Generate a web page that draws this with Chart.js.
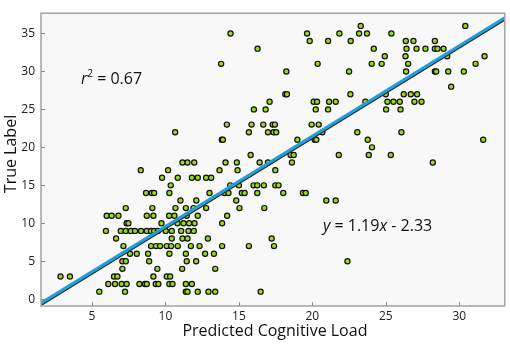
<!DOCTYPE html>
<html>
<head>
<meta charset="utf-8">
<script src="https://cdn.jsdelivr.net/npm/chart.js@4.4.0/dist/chart.umd.min.js"></script>
<style>
  html, body { margin: 0; padding: 0; background: #fff; }
</style>
</head>
<body>
<canvas id="loadChart" width="510" height="345"></canvas>
<script>
// predicted cognitive load per sample (x), grouped by true label rows
const predictedLoad = [
  5.50, 7.25, 11.39, 11.50, 12.20, 12.93, 13.39, 16.48,
  6.11, 6.57, 7.02, 7.36, 8.23, 8.61, 8.73, 9.34, 9.52, 10.27, 10.48, 11.39, 11.80,
  2.86, 3.50, 6.50, 6.73, 9.18, 10.09, 10.32,
  7.07, 9.45, 11.14, 13.39,
  7.07, 7.30, 8.89, 11.45, 12.09, 22.39,
  7.59, 8.05, 8.82, 10.27, 11.39, 12.70, 13.30,
  7.14, 9.02, 9.36, 9.64, 10.09, 10.39, 10.84, 11.73, 12.32, 13.86, 15.68, 17.39,
  6.64, 10.43, 11.16, 11.50, 12.89, 17.23,
  5.95, 6.96, 7.30, 7.64, 7.93, 8.34, 8.73, 9.02, 9.23, 9.48, 10.02, 10.43, 11.07, 11.57, 11.93,
  7.36, 7.48, 9.73, 10.82, 11.23, 11.61, 11.98, 13.86,
  6.00, 6.34, 6.80, 8.73, 9.18, 10.25, 10.61, 11.45, 12.20, 14.20,
  7.30, 9.11, 10.68, 11.39, 11.91, 12.77, 15.04, 16.73,
  11.02, 12.10, 14.82, 20.95, 21.59,
  8.68, 9.07, 9.23, 10.27, 13.00, 14.02, 14.29, 15.20, 15.39, 16.25, 18.02, 19.36, 19.55,
  10.36, 14.41, 15.00, 16.00, 16.25, 16.70, 17.48, 17.70,
  9.77, 10.84, 11.80, 12.20, 12.77, 13.11,
  8.32, 10.18, 13.68, 14.91, 17.48,
  11.16, 11.50, 11.96, 14.09, 14.86, 16.41, 16.98, 18.61, 28.20,
  15.80, 18.52, 18.73, 21.80, 23.84, 25.34,
  24.06,
  13.84, 13.91, 18.98, 20.16, 20.27, 23.77, 31.63,
  10.66, 15.68, 16.98, 17.36, 17.54, 20.68, 23.06, 26.06,
  14.18, 15.86, 16.66, 17.30, 17.45, 19.95, 20.43,
  16.02, 16.82, 20.23, 21.07, 25.02, 26.00,
  17.09, 20.09, 20.32, 21.14, 21.59, 23.61, 25.11, 25.52, 25.95, 26.95, 27.43,
  18.16, 18.27, 22.59, 25.00, 26.22, 26.70, 27.13,
  29.45,
  18.23, 22.50, 26.38, 28.34, 28.43, 29.25, 30.31,
  13.79, 20.36, 24.04, 24.72, 26.52, 31.11,
  24.93, 26.34, 29.18, 31.72,
  16.27, 24.18, 26.41, 27.09, 27.70, 28.34, 28.52, 28.93,
  19.82, 21.07, 22.61, 26.36, 26.88, 28.34,
  14.43, 19.64, 21.84, 23.18, 23.72, 25.38,
  23.29, 30.41
];

const trueLabel = [
  1, 1, 1, 1, 1, 1, 1, 1,
  2, 2, 2, 2, 2, 2, 2, 2, 2, 2, 2, 2, 2,
  3, 3, 3, 3, 3, 3, 3,
  4, 4, 4, 4,
  5, 5, 5, 5, 5, 5,
  6, 6, 6, 6, 6, 6, 6,
  7, 7, 7, 7, 7, 7, 7, 7, 7, 7, 7, 7,
  8, 8, 8, 8, 8, 8,
  9, 9, 9, 9, 9, 9, 9, 9, 9, 9, 9, 9, 9, 9, 9,
  10, 10, 10, 10, 10, 10, 10, 10,
  11, 11, 11, 11, 11, 11, 11, 11, 11, 11,
  12, 12, 12, 12, 12, 12, 12, 12,
  13, 13, 13, 13, 13,
  14, 14, 14, 14, 14, 14, 14, 14, 14, 14, 14, 14, 14,
  15, 15, 15, 15, 15, 15, 15, 15,
  16, 16, 16, 16, 16, 16,
  17, 17, 17, 17, 17,
  18, 18, 18, 18, 18, 18, 18, 18, 18,
  19, 19, 19, 19, 19, 19,
  20,
  21, 21, 21, 21, 21, 21, 21,
  22, 22, 22, 22, 22, 22, 22, 22,
  23, 23, 23, 23, 23, 23, 23,
  25, 25, 25, 25, 25, 25,
  26, 26, 26, 26, 26, 26, 26, 26, 26, 26, 26,
  27, 27, 27, 27, 27, 27, 27,
  28,
  30, 30, 30, 30, 30, 30, 30,
  31, 31, 31, 31, 31, 31,
  32, 32, 32, 32,
  33, 33, 33, 33, 33, 33, 33, 33,
  34, 34, 34, 34, 34, 34,
  35, 35, 35, 35, 35, 35,
  36, 36
];

const fitSlope = 1.19;
const fitIntercept = -2.33;
const rSquared = '0.67';

const xTicks = [5, 10, 15, 20, 25, 30];
const yTicks = [0, 5, 10, 15, 20, 25, 30, 35];
const xRange = [1.53, 33.1];
const yRange = [-0.89, 37.67];

const fontName = "'Open Sans', 'DejaVu Sans', sans-serif";
const plotBg = '#f8f8f8';
const frameColor = '#a3a3a3';

let points = predictedLoad.map((v, i) => ({ x: v, y: trueLabel[i] }));
let fitLine = xRange.map(v => ({ x: v, y: fitSlope * v + fitIntercept }));

// draws a run of text pieces, each with its own font / offset
function drawPieces(ctx, pieces, x, y) {
  pieces.forEach(p => {
    ctx.font = p.font;
    ctx.fillText(p.text, x, y + (p.dy || 0));
    x += ctx.measureText(p.text).width;
  });
}

const framePlugin = {
  id: 'frame',
  beforeDraw(chart) {
    const { ctx, chartArea: a } = chart;
    ctx.save();
    ctx.fillStyle = plotBg;
    ctx.fillRect(a.left, a.top, a.right - a.left, a.bottom - a.top);
    ctx.restore();
  },
  beforeDatasetDraw(chart, args) {
    if (args.index !== 0) return;
    const ctx = chart.ctx;
    ctx.save();
    ctx.shadowColor = '#222';
    ctx.shadowBlur = 0;
    ctx.shadowOffsetX = 0.4;
    ctx.shadowOffsetY = 1;
  },
  afterDatasetDraw(chart, args) {
    if (args.index !== 0) return;
    chart.ctx.restore();
  },
  afterDraw(chart) {
    const { ctx, chartArea: a, scales } = chart;
    ctx.save();
    ctx.strokeStyle = frameColor;
    ctx.lineWidth = 1.5;
    ctx.strokeRect(a.left, a.top, a.right - a.left, a.bottom - a.top);

    // inward tick marks
    ctx.lineWidth = 1;
    ctx.strokeStyle = '#8a8a8a';
    ctx.beginPath();
    scales.x.ticks.forEach(t => {
      const px = Math.round(scales.x.getPixelForValue(t.value)) + 0.5;
      ctx.moveTo(px, a.bottom);
      ctx.lineTo(px, a.bottom - 4);
    });
    scales.y.ticks.forEach(t => {
      const py = Math.round(scales.y.getPixelForValue(t.value)) + 0.5;
      ctx.moveTo(a.left, py);
      ctx.lineTo(a.left + 4, py);
    });
    ctx.stroke();

    ctx.fillStyle = '#111';
    ctx.textBaseline = 'middle';

    // axis titles
    ctx.textAlign = 'center';
    ctx.font = '16px ' + fontName;
    ctx.fillText('Predicted Cognitive Load', (a.left + a.right) / 2 + 2, 331);
    ctx.save();
    ctx.translate(11, 154);
    ctx.rotate(-Math.PI / 2);
    ctx.fillText('True Label', 0, 0);
    ctx.restore();

    // annotations
    ctx.textAlign = 'left';
    drawPieces(ctx, [
      { text: 'r', font: 'italic 16px ' + fontName },
      { text: '2', font: '10px ' + fontName, dy: -5 },
      { text: ' = ' + rSquared, font: '16px ' + fontName }
    ], scales.x.getPixelForValue(4.25), scales.y.getPixelForValue(29));

    drawPieces(ctx, [
      { text: 'y', font: 'italic 16px ' + fontName },
      { text: ' = ' + fitSlope.toFixed(2), font: '16px ' + fontName },
      { text: 'x', font: 'italic 16px ' + fontName },
      { text: ' - ' + Math.abs(fitIntercept).toFixed(2), font: '16px ' + fontName }
    ], scales.x.getPixelForValue(20.72), scales.y.getPixelForValue(9.6));
    ctx.restore();
  }
};

const useTicks = values => scale => {
  scale.ticks = values.map(v => ({ value: v }));
};

new Chart(document.getElementById('loadChart').getContext('2d'), {
  type: 'scatter',
  data: {
    datasets: [
      {
        type: 'line',
        label: 'fit',
        data: fitLine,
        borderColor: '#1fa0dc',
        borderWidth: 3,
        pointRadius: 0,
        fill: false
      },
      {
        label: 'samples',
        data: points,
        backgroundColor: '#9ad81e',
        borderColor: '#111',
        borderWidth: 1.2,
        pointRadius: 2.6
      }
    ]
  },
  options: {
    responsive: false,
    animation: false,
    events: [],
    layout: { padding: { top: 3, right: 5, left: 0, bottom: 0 } },
    plugins: {
      legend: { display: false },
      tooltip: { enabled: false }
    },
    scales: {
      x: {
        type: 'linear',
        min: xRange[0],
        max: xRange[1],
        grid: { display: false, drawTicks: false },
        border: { display: false },
        ticks: {
          padding: 3,
          color: '#222',
          font: { family: fontName, size: 12 }
        },
        afterBuildTicks: useTicks(xTicks),
        afterFit: s => { s.height = 39; }
      },
      y: {
        type: 'linear',
        min: yRange[0],
        max: yRange[1],
        grid: { display: false, drawTicks: false },
        border: { display: false },
        ticks: {
          padding: 6,
          color: '#222',
          font: { family: fontName, size: 12 }
        },
        afterBuildTicks: useTicks(yTicks),
        afterFit: s => { s.width = 41; }
      }
    }
  },
  plugins: [framePlugin]
});
</script>
</body>
</html>
